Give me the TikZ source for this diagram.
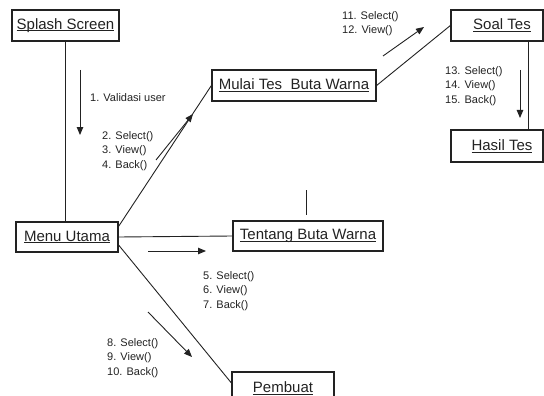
\documentclass[tikz,border=0pt]{standalone}
\usepackage{fontspec}
\setmainfont{Liberation Sans}
\usetikzlibrary{arrows.meta,calc}
\newsavebox\myulbox
\newcommand\myul[1]{\sbox\myulbox{#1}\rlap{\rule[-2pt]{\wd\myulbox}{0.9pt}}\usebox\myulbox}
\definecolor{ink}{HTML}{222222}
\begin{document}
\begin{tikzpicture}[x=1pt,y=-1pt,
  box/.style={draw=ink,line width=1.2pt,rectangle,inner sep=0pt,text=ink,
              font=\fontsize{15}{17}\selectfont},
  link/.style={draw=ink,line width=0.9pt},
  msg/.style={draw=ink,line width=0.9pt,-{Triangle[length=8pt,width=6.5pt]}},
  lbl/.style={anchor=north west,inner sep=0pt,align=left,text=ink,
              font=\fontsize{11}{14.5}\selectfont}]
\useasboundingbox (0,0) rectangle (544,396);
% boxes
\node[box,minimum width=107pt,minimum height=31pt] (splash) at (65.5,25.5) {\myul{Splash Screen}};
\node[box,minimum width=102pt,minimum height=30pt] (menu) at (67,237) {\myul{Menu Utama}};
\node[box,minimum width=164pt,minimum height=31pt] (mulai) at (294,85.5) {\myul{Mulai Tes\ \ Buta Warna}};
\node[box,minimum width=92pt,minimum height=31pt] (soal) at (497,25.5) {\hspace{10pt}\myul{Soal Tes}};
\node[box,minimum width=92pt,minimum height=32pt] (hasil) at (497,146) {\hspace{10pt}\myul{Hasil Tes}};
\node[box,minimum width=150pt,minimum height=30pt] (tentang) at (308,236) {\myul{Tentang Buta Warna}};
\node[box,minimum width=102pt,minimum height=32pt] (pembuat) at (283,388) {\myul{Pembuat}};
% links
\draw[link] (splash.south) -- (splash.south |- menu.north);
\draw[link] ([yshift=-5pt]menu.north east) -- (mulai.west);
\draw[link] (menu.east) -- (tentang.west);
\draw[link] ([yshift=-8pt]menu.east) -- ([yshift=5pt]pembuat.west);
\draw[link] (mulai.east) -- (soal.west);
\draw[link] ([xshift=31pt]soal.south) -- ([xshift=31pt]hasil.north);
\coordinate (s1) at (306,190);
\coordinate (s2) at (306,215);
\draw[link] (s1) -- (s2);
% message arrows
\coordinate (a1s) at (80,70);   \coordinate (a1e) at (80,135);
\coordinate (a2s) at (156,160); \coordinate (a2e) at (193,114);
\coordinate (a5s) at (148,251); \coordinate (a5e) at (206,251);
\coordinate (a8s) at (148,312); \coordinate (a8e) at (192,357);
\coordinate (a11s) at (383,56); \coordinate (a11e) at (424,27);
\coordinate (a13s) at (520,70); \coordinate (a13e) at (520,118);
\draw[msg] (a1s) -- (a1e);
\draw[msg] (a2s) -- (a2e);
\draw[msg] (a5s) -- (a5e);
\draw[msg] (a8s) -- (a8e);
\draw[msg] (a11s) -- (a11e);
\draw[msg] (a13s) -- (a13e);
% labels
\node[lbl,anchor=base west] (l1) at (90,102) {1. Validasi user};
\node[lbl] (l2) at (102,131) {2. Select()\\3. View()\\4. Back()};
\node[lbl] (l5) at (203,271) {5. Select()\\6. View()\\7. Back()};
\node[lbl] (l8) at (107,338) {8. Select()\\9. View()\\10. Back()};
\node[lbl] (l11) at (342,11) {11. Select()\\12. View()};
\node[lbl] (l13) at (445,66) {13. Select()\\14. View()\\15. Back()};
\end{tikzpicture}
\end{document}
